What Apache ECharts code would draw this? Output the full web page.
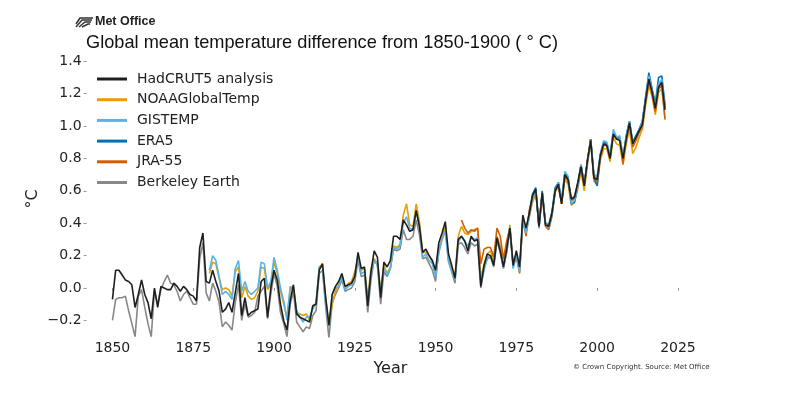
<!DOCTYPE html>
<html>
<head>
<meta charset="utf-8">
<script src="https://cdn.jsdelivr.net/npm/echarts@6/dist/echarts.min.js"></script>
<style>
html, body { margin: 0; padding: 0; background: #fff; }
#container { width: 790px; height: 399px; }
</style>
</head>
<body>
<div id="container"></div>
<script>
// series names / colours, in legend order
var seriesNames = ['HadCRUT5 analysis', 'NOAAGlobalTemp', 'GISTEMP', 'ERA5', 'JRA-55', 'Berkeley Earth'];
var seriesColors = ['#1f1f1f', '#e69f00', '#56b4e9', '#0072b2', '#d55e00', '#888888'];
var xTicks = [1850, 1875, 1900, 1925, 1950, 1975, 2000, 2025];
var yTicks = [-0.2, 0, 0.2, 0.4, 0.6, 0.8, 1.0, 1.2, 1.4];

// annual anomalies vs 1850-1900 (degC)
var hadcrutStart = 1850;
var hadcrut = [
    -0.07, 0.11, 0.11, 0.08, 0.05, 0.04, 0.02, -0.12, -0.04, 0.05,
    -0.04, -0.09, -0.19, 0.00, -0.12, 0.01, 0.00, -0.01, -0.01, 0.03,
    0.01, -0.02, 0.01, -0.01, -0.04, -0.05, -0.08, 0.25, 0.34, 0.04,
    0.03, 0.11, 0.04, -0.02, -0.15, -0.13, -0.09, -0.15, -0.03, 0.09,
    -0.17, -0.06, -0.17, -0.15, -0.14, -0.13, 0.04, 0.06, -0.18, 0.00,
    0.11, 0.05, -0.10, -0.20, -0.26, -0.08, 0.02, -0.16, -0.18, -0.19,
    -0.20, -0.21, -0.11, -0.10, 0.11, 0.15, -0.06, -0.23, -0.04, 0.01,
    0.04, 0.09, 0.01, 0.02, 0.03, 0.07, 0.22, 0.12, 0.13, -0.11,
    0.10, 0.23, 0.19, -0.06, 0.16, 0.13, 0.17, 0.32, 0.32, 0.30,
    0.42, 0.39, 0.35, 0.36, 0.48, 0.38, 0.22, 0.24, 0.20, 0.17,
    0.11, 0.28, 0.34, 0.41, 0.21, 0.14, 0.06, 0.30, 0.32, 0.29,
    0.23, 0.32, 0.29, 0.30, 0.01, 0.14, 0.21, 0.20, 0.14, 0.31,
    0.23, 0.13, 0.24, 0.37, 0.14, 0.23, 0.13, 0.45, 0.37, 0.46,
    0.57, 0.61, 0.38, 0.59, 0.39, 0.38, 0.46, 0.60, 0.64, 0.52,
    0.70, 0.67, 0.55, 0.56, 0.65, 0.75, 0.63, 0.79, 0.91, 0.68,
    0.67, 0.82, 0.89, 0.88, 0.80, 0.95, 0.92, 0.91, 0.80, 0.92,
    1.02, 0.89, 0.93, 0.97, 1.01, 1.16, 1.29, 1.21, 1.11, 1.24,
    1.27, 1.10
];

var noaaStart = 1880;
var noaa = [
    0.09, 0.16, 0.15, 0.06, -0.01, 0.00, -0.01, -0.05, 0.10, 0.13,
    -0.06, 0.01, -0.05, -0.07, -0.06, -0.02, 0.13, 0.12, -0.01, 0.02,
    0.16, 0.09, -0.02, -0.10, -0.18, -0.01, 0.01, -0.15, -0.16, -0.17,
    -0.16, -0.20, -0.11, -0.10, 0.13, 0.15, -0.07, -0.22, -0.10, -0.02,
    0.02, 0.08, 0.00, 0.03, 0.04, 0.10, 0.19, 0.11, 0.12, -0.06,
    0.12, 0.18, 0.15, -0.01, 0.14, 0.09, 0.13, 0.26, 0.25, 0.27,
    0.45, 0.52, 0.39, 0.38, 0.52, 0.41, 0.22, 0.22, 0.20, 0.16,
    0.08, 0.22, 0.31, 0.37, 0.18, 0.12, 0.07, 0.32, 0.38, 0.34,
    0.33, 0.35, 0.36, 0.37, 0.06, 0.15, 0.21, 0.23, 0.16, 0.32,
    0.26, 0.15, 0.26, 0.39, 0.14, 0.20, 0.11, 0.43, 0.35, 0.44,
    0.53, 0.58, 0.40, 0.58, 0.40, 0.37, 0.45, 0.59, 0.63, 0.52,
    0.67, 0.64, 0.51, 0.53, 0.61, 0.72, 0.60, 0.76, 0.90, 0.66,
    0.64, 0.79, 0.86, 0.86, 0.78, 0.93, 0.89, 0.88, 0.76, 0.89,
    0.98, 0.83, 0.87, 0.93, 0.98, 1.13, 1.25, 1.18, 1.07, 1.21,
    1.23, 1.05
];

var gistempStart = 1880;
var gistemp = [
    0.11, 0.20, 0.17, 0.07, -0.04, -0.02, -0.04, -0.07, 0.12, 0.17,
    -0.02, 0.04, -0.02, -0.04, -0.02, 0.00, 0.16, 0.15, 0.00, 0.04,
    0.19, 0.11, 0.00, -0.08, -0.20, 0.01, -0.01, -0.14, -0.18, -0.21,
    -0.18, -0.18, -0.13, -0.09, 0.13, 0.13, -0.10, -0.24, -0.04, 0.00,
    0.01, 0.07, -0.01, 0.01, 0.02, 0.06, 0.20, 0.09, 0.10, -0.08,
    0.09, 0.17, 0.14, -0.04, 0.12, 0.08, 0.12, 0.25, 0.24, 0.26,
    0.40, 0.44, 0.37, 0.36, 0.47, 0.38, 0.19, 0.21, 0.17, 0.15,
    0.07, 0.22, 0.30, 0.35, 0.16, 0.10, 0.05, 0.28, 0.32, 0.29,
    0.26, 0.31, 0.30, 0.31, 0.03, 0.11, 0.19, 0.20, 0.15, 0.30,
    0.23, 0.13, 0.22, 0.38, 0.12, 0.20, 0.10, 0.42, 0.34, 0.44,
    0.55, 0.61, 0.37, 0.59, 0.40, 0.37, 0.45, 0.60, 0.65, 0.54,
    0.72, 0.69, 0.52, 0.54, 0.63, 0.76, 0.64, 0.78, 0.91, 0.70,
    0.69, 0.83, 0.91, 0.90, 0.82, 0.98, 0.93, 0.94, 0.81, 0.94,
    1.03, 0.89, 0.93, 0.97, 1.03, 1.17, 1.31, 1.22, 1.12, 1.26,
    1.29, 1.12
];

var era5Start = 1979;
var era5 = [
    0.47,
    0.58, 0.62, 0.37, 0.60, 0.40, 0.39, 0.47, 0.62, 0.65, 0.54,
    0.70, 0.68, 0.52, 0.53, 0.63, 0.76, 0.64, 0.78, 0.92, 0.68,
    0.63, 0.82, 0.90, 0.89, 0.82, 0.96, 0.93, 0.93, 0.80, 0.94,
    1.03, 0.90, 0.94, 0.98, 1.03, 1.18, 1.33, 1.23, 1.14, 1.30,
    1.31, 1.13
];

var jra55Start = 1958;
var jra55 = [
    0.42, 0.37,
    0.34, 0.36, 0.35, 0.37, 0.15, 0.24, 0.25, 0.25, 0.19, 0.37,
    0.32, 0.18, 0.29, 0.37, 0.14, 0.19, 0.09, 0.42, 0.32, 0.48,
    0.56, 0.60, 0.38, 0.57, 0.38, 0.36, 0.44, 0.60, 0.63, 0.52,
    0.69, 0.66, 0.54, 0.55, 0.64, 0.75, 0.63, 0.79, 0.92, 0.68,
    0.66, 0.81, 0.88, 0.88, 0.80, 0.96, 0.92, 0.92, 0.77, 0.92,
    1.01, 0.87, 0.91, 0.96, 1.00, 1.15, 1.28, 1.20, 1.09, 1.23,
    1.25, 1.04
];

var berkeleyStart = 1850;
var berkeley = [
    -0.20, -0.07, -0.06, -0.06, -0.05, -0.14, -0.22, -0.30, -0.05, -0.01,
    -0.12, -0.22, -0.30, -0.02, -0.10, -0.01, 0.04, 0.08, 0.03, 0.02,
    -0.02, -0.08, -0.04, -0.02, -0.06, -0.10, -0.10, 0.18, 0.28, -0.03,
    -0.08, 0.03, -0.02, -0.09, -0.24, -0.21, -0.23, -0.26, -0.09, 0.02,
    -0.20, -0.10, -0.18, -0.17, -0.15, -0.05, -0.02, 0.01, -0.19, -0.04,
    0.09, 0.01, -0.15, -0.22, -0.30, -0.10, -0.02, -0.21, -0.24, -0.27,
    -0.24, -0.25, -0.17, -0.14, 0.09, 0.11, -0.12, -0.31, -0.09, -0.04,
    0.00, 0.05, -0.02, -0.01, 0.00, 0.04, 0.17, 0.07, 0.08, -0.15,
    0.05, 0.18, 0.14, -0.10, 0.10, 0.07, 0.12, 0.24, 0.23, 0.24,
    0.36, 0.30, 0.30, 0.32, 0.42, 0.33, 0.18, 0.19, 0.15, 0.11,
    0.04, 0.24, 0.30, 0.38, 0.17, 0.10, 0.03, 0.27, 0.28, 0.25,
    0.21, 0.28, 0.26, 0.27, 0.00, 0.12, 0.18, 0.19, 0.13, 0.29,
    0.22, 0.12, 0.22, 0.36, 0.13, 0.21, 0.11, 0.43, 0.36, 0.46,
    0.56, 0.61, 0.39, 0.59, 0.40, 0.38, 0.46, 0.60, 0.65, 0.53,
    0.71, 0.68, 0.55, 0.57, 0.65, 0.76, 0.64, 0.79, 0.92, 0.69,
    0.68, 0.83, 0.90, 0.89, 0.81, 0.96, 0.93, 0.92, 0.81, 0.93,
    1.03, 0.90, 0.94, 0.98, 1.03, 1.17, 1.31, 1.22, 1.12, 1.25,
    1.28, 1.11
];

// [year, value] pairs for a value x axis
function toPairs(start, values) {
    var out = [];
    for (var i = 0; i < values.length; i++) {
        out.push([start + i, values[i]]);
    }
    return out;
}

function lineSeries(idx, start, values, z) {
    return {
        name: seriesNames[idx],
        type: 'line',
        data: toPairs(start, values),
        showSymbol: false,
        symbol: 'none',
        z: z,
        lineStyle: { color: seriesColors[idx], width: 1.6 },
        itemStyle: { color: seriesColors[idx] }
    };
}

// matplotlib style minus sign
function fmtY(v) {
    var s = Math.abs(v).toFixed(1);
    return v < -1e-9 ? '\u2212' + s : s;
}

var myChart = echarts.init(document.getElementById('container'), null, { renderer: 'canvas' });

var option = {
    animation: false,
    backgroundColor: '#ffffff',
    textStyle: { fontFamily: 'DejaVu Sans' },
    grid: { left: 86.6, top: 53.2, width: 607.5, height: 283.4 },
    legend: {
        orient: 'vertical',
        left: 97,
        top: 70,
        padding: 0,
        itemWidth: 30,
        itemHeight: 3,
        itemGap: 2.7,
        icon: 'rect',
        data: seriesNames,
        textStyle: { fontFamily: 'DejaVu Sans', fontSize: 14, color: '#222', lineHeight: 18, padding: [0, 0, 0, 5] }
    },
    xAxis: {
        type: 'value',
        min: 1842,
        max: 2030,
        axisLine: { show: false },
        splitLine: { show: false },
        axisTick: { show: true, length: 3, lineStyle: { color: '#999' }, customValues: xTicks },
        axisLabel: {
            customValues: xTicks, fontSize: 14, color: '#222', margin: 5, fontFamily: 'DejaVu Sans',
            formatter: function (v) { return String(v); }
        },
        name: 'Year',
        nameLocation: 'middle',
        nameGap: 23,
        nameTextStyle: { fontSize: 16, color: '#222', fontFamily: 'DejaVu Sans' }
    },
    yAxis: {
        type: 'value',
        min: -0.3,
        max: 1.45,
        axisLine: { show: false },
        splitLine: { show: false },
        axisTick: { show: true, length: 3, lineStyle: { color: '#999' }, customValues: yTicks },
        axisLabel: { customValues: yTicks, fontSize: 14, color: '#222', margin: 5, formatter: fmtY, fontFamily: 'DejaVu Sans' }
    },
    graphic: [
        // Met Office logo mark
        { type: 'polyline', shape: { points: [[76, 24], [80, 18], [93, 18]] }, style: { stroke: '#333', lineWidth: 1.6, fill: null } },
        { type: 'polyline', shape: { points: [[76, 27], [82, 20], [92, 20]] }, style: { stroke: '#333', lineWidth: 1.4, fill: null } },
        { type: 'polyline', shape: { points: [[79, 27], [85, 22], [91, 22]] }, style: { stroke: '#333', lineWidth: 1.4, fill: null } },
        { type: 'polyline', shape: { points: [[82, 27], [88, 24], [90, 24]] }, style: { stroke: '#333', lineWidth: 1.4, fill: null } },
        { type: 'text', left: 95, top: 15, style: { text: 'Met Office', font: 'bold 12.5px "Liberation Sans", Arial, sans-serif', fill: '#222' } },
        // title
        { type: 'text', left: 86, top: 34, style: { text: 'Global mean temperature difference from 1850-1900 ( \u00b0 C)', font: '18.2px "Liberation Sans", Arial, sans-serif', fill: '#111' } },
        // y axis name
        { type: 'text', x: 33, y: 199, rotation: Math.PI / 2, style: { text: '\u00b0C', font: '16px "DejaVu Sans"', fill: '#222', align: 'center', verticalAlign: 'middle' } },
        // credit line
        { type: 'text', left: 573, top: 364, style: { text: '\u00a9 Crown Copyright. Source: Met Office', font: '7px "DejaVu Sans"', fill: '#333' } }
    ],
    series: [
        lineSeries(0, hadcrutStart, hadcrut, 6),
        lineSeries(1, noaaStart, noaa, 3),
        lineSeries(2, gistempStart, gistemp, 4),
        lineSeries(3, era5Start, era5, 3),
        lineSeries(4, jra55Start, jra55, 3),
        lineSeries(5, berkeleyStart, berkeley, 2)
    ]
};

myChart.setOption(option);
</script>
</body>
</html>
